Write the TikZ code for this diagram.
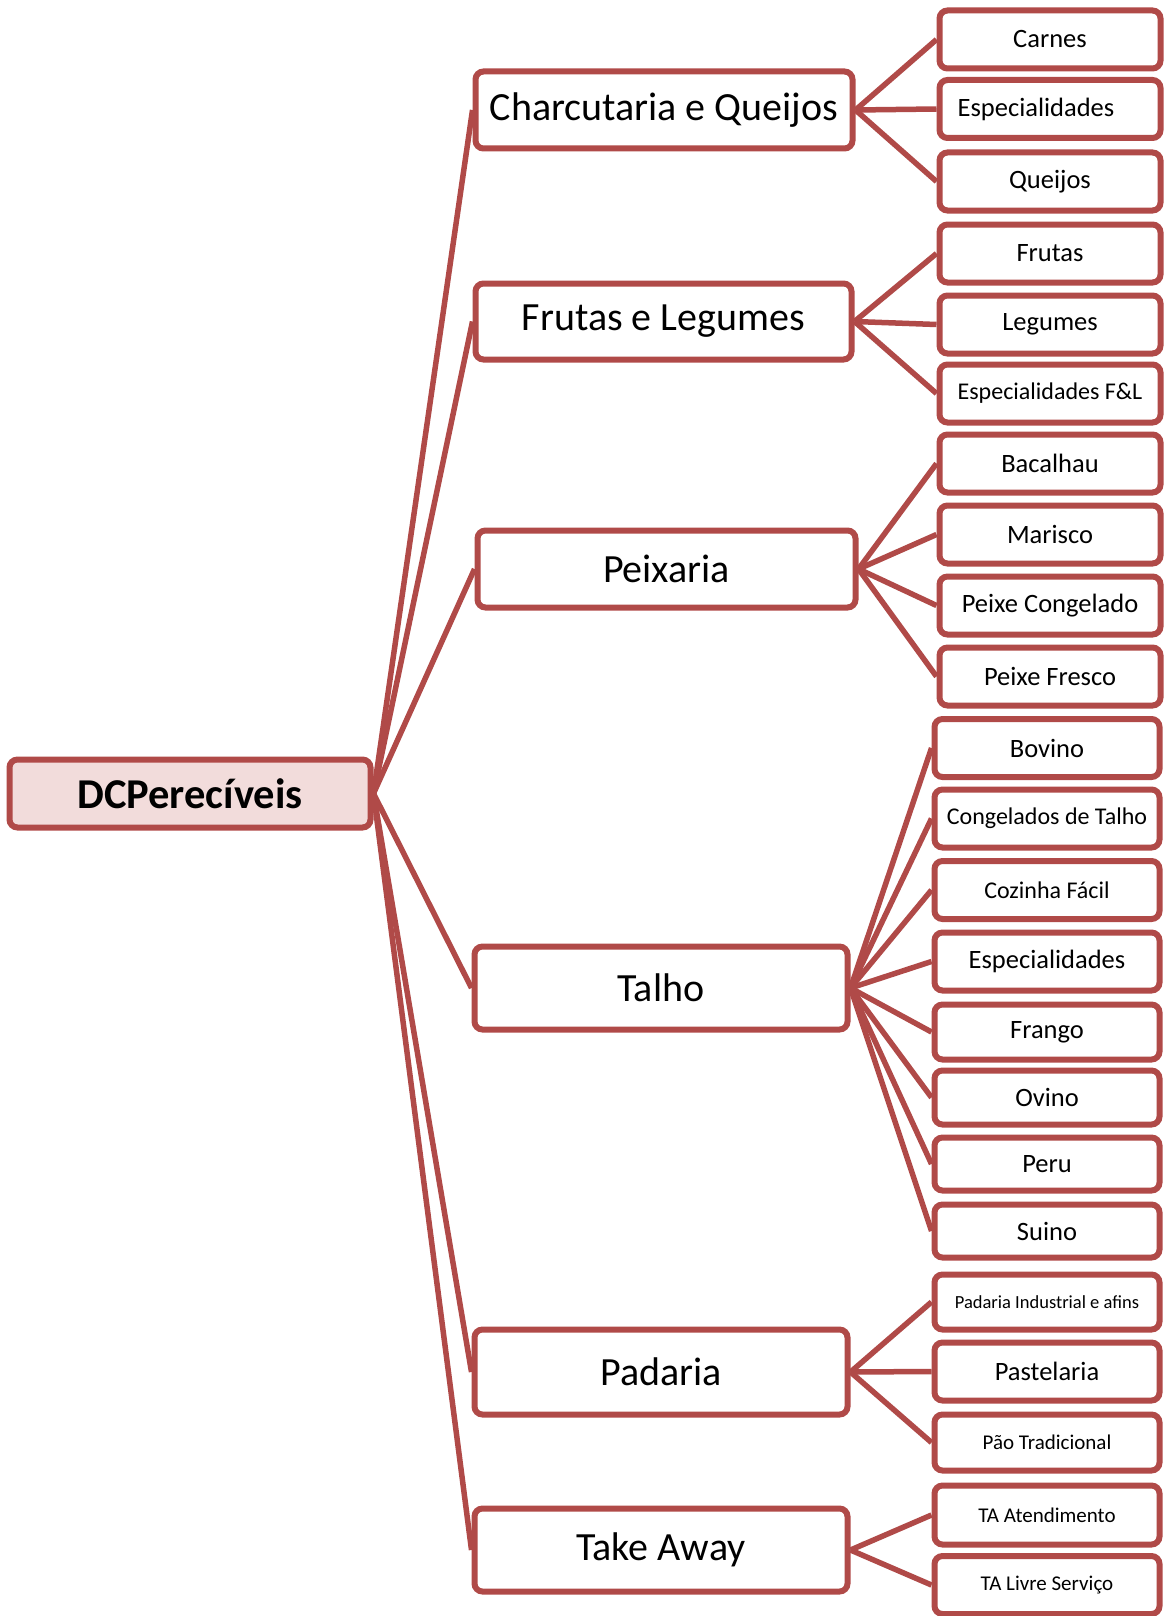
\documentclass[tikz,border=0pt]{standalone}
\usepackage{fontspec}
\setmainfont{Carlito}
\definecolor{boxred}{RGB}{176,74,72}
\definecolor{rootfill}{RGB}{242,220,219}
\tikzset{
  box/.style={draw=boxred, line width=6pt, rounded corners=8pt, fill=white,
    inner sep=0pt, align=center, text=black},
  rootbox/.style={box, fill=rootfill, minimum width=361pt, minimum height=68pt,
    font=\fontsize{42.5}{48}\selectfont\bfseries},
  midbox/.style={box, minimum width=376pt, minimum height=77pt,
    font=\fontsize{40}{46}\selectfont},
  leafbox/.style={box, minimum width=221pt, minimum height=58pt,
    font=\fontsize{26.5}{30}\selectfont},
  leafboxb/.style={leafbox, minimum width=225pt},
  link/.style={draw=boxred, line width=5.5pt}
}
\begin{document}
\begin{tikzpicture}[x=1pt, y=-1pt]
\useasboundingbox (0,0) rectangle (1164,1616);

% root and main sections
\node[rootbox] (root) at (190,793.5) {DCPerecíveis};
\node[midbox, minimum width=377pt] (charc) at (664,110) {Charcutaria e Queijos};
\node[midbox, minimum width=376pt, minimum height=76pt] (frutas) at (663.5,321.5) {Frutas e Legumes};
\node[midbox, minimum width=378pt] (peix) at (666.5,569) {Peixaria};
\node[midbox, minimum width=373pt, minimum height=83pt] (talho) at (661,988) {Talho};
\node[midbox, minimum width=373pt, minimum height=85pt] (padaria) at (661,1372) {Padaria};
\node[midbox, minimum width=373pt, minimum height=83pt] (take) at (661,1550) {Take Away};

% Charcutaria e Queijos
\node[leafbox] (carnes) at (1050,39.5) {Carnes};
\node[leafbox] (espc) at (1050,109) {\hspace*{-28pt}Especialidades};
\node[leafbox] (queijos) at (1050,181.5) {Queijos};
% Frutas e Legumes
\node[leafbox] (fr) at (1050,253.5) {Frutas};
\node[leafbox] (leg) at (1050,324.5) {Legumes};
\node[leafbox, font=\fontsize{24}{28}\selectfont] (espfl) at (1050,393.5) {Especialidades F\&L};
% Peixaria
\node[leafbox] (bac) at (1050,463.5) {Bacalhau};
\node[leafbox] (mar) at (1050,534.5) {Marisco};
\node[leafbox] (pcong) at (1050,605.5) {Peixe Congelado};
\node[leafbox] (pfres) at (1050,676.5) {Peixe Fresco};
% Talho
\node[leafboxb] (bov) at (1047,748) {Bovino};
\node[leafboxb, font=\fontsize{24}{28}\selectfont] (congt) at (1047,818.5) {Congelados de Talho};
\node[leafboxb, font=\fontsize{24}{28}\selectfont] (coz) at (1047,890) {Cozinha Fácil};
\node[leafboxb] (espt) at (1047,961.5) {Especialidades};
\node[leafboxb, minimum height=55pt] (frango) at (1047,1032) {Frango};
\node[leafboxb, minimum height=54pt] (ovino) at (1047,1097.5) {Ovino};
\node[leafboxb, minimum height=53pt] (peru) at (1047,1164) {Peru};
\node[leafboxb, minimum height=53pt] (suino) at (1047,1231) {Suino};
% Padaria
\node[leafboxb, minimum height=55pt, font=\fontsize{18.5}{22}\selectfont] (padind) at (1047,1302) {Padaria Industrial e afins};
\node[leafboxb] (past) at (1047,1371.5) {Pastelaria};
\node[leafboxb, minimum height=56pt, font=\fontsize{21}{25}\selectfont] (paot) at (1047,1442.5) {Pão Tradicional};
% Take Away
\node[leafboxb, minimum height=59pt, font=\fontsize{21}{25}\selectfont] (taat) at (1047,1515) {TA Atendimento};
\node[leafboxb, font=\fontsize{21}{25}\selectfont] (talv) at (1047,1585) {TA Livre Serviço};

% connectors
\foreach \c in {charc,frutas,peix,talho,padaria,take}
  \draw[link] (root.east) -- (\c.west);
\foreach \c in {carnes,espc,queijos}
  \draw[link] (charc.east) -- (\c.west);
\foreach \c in {fr,leg,espfl}
  \draw[link] (frutas.east) -- (\c.west);
\foreach \c in {bac,mar,pcong,pfres}
  \draw[link] (peix.east) -- (\c.west);
\foreach \c in {bov,congt,coz,espt,frango,ovino,peru,suino}
  \draw[link] (talho.east) -- (\c.west);
\foreach \c in {padind,past,paot}
  \draw[link] (padaria.east) -- (\c.west);
\foreach \c in {taat,talv}
  \draw[link] (take.east) -- (\c.west);
\end{tikzpicture}
\end{document}
